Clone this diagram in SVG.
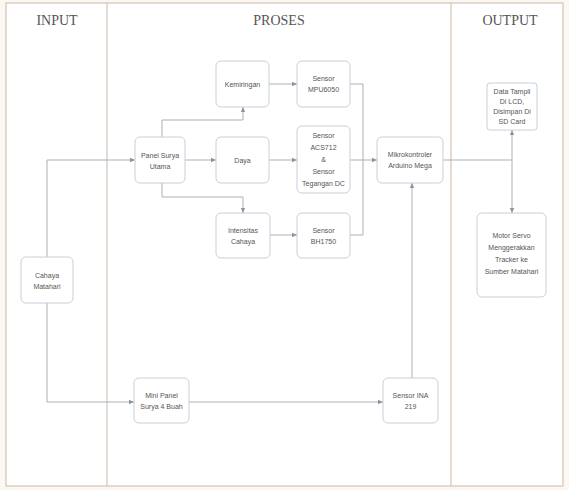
<svg xmlns="http://www.w3.org/2000/svg" width="569" height="490" viewBox="0 0 569 490">
<style>
.node rect{fill:#ffffff;stroke:#c9ced8;stroke-width:1}
.node text{font-family:"Liberation Sans",Arial,sans-serif;font-size:7px;fill:#555;text-anchor:middle}
.lane{font-family:"Liberation Serif","Times New Roman",serif;font-size:14px;fill:#555;text-anchor:middle}
.frame{fill:none;stroke:#cdb8a6;stroke-width:1}
#connectors path{fill:none;stroke:#a9afb8;stroke-width:1}
</style>
<defs>
<marker id="arr" markerWidth="6" markerHeight="6" refX="5" refY="3" orient="auto" markerUnits="userSpaceOnUse">
<path d="M0,0.8 L5,3 L0,5.2 Z" fill="#8f959e"/>
</marker>
</defs>
<rect x="0" y="0" width="569" height="490" fill="#fbf8f4"/>
<rect x="6" y="3" width="557" height="483" fill="#ffffff"/>
<g id="lanes">
<rect x="6" y="3" width="557" height="483" class="frame"/>
<line x1="107" y1="3" x2="107" y2="486" class="frame"/>
<line x1="451" y1="3" x2="451" y2="486" class="frame"/>
<text class="lane" x="57" y="25">INPUT</text>
<text class="lane" x="279" y="25">PROSES</text>
<text class="lane" x="510" y="25">OUTPUT</text>
</g>
<g id="connectors">
<path d="M47,257 V160 H135" marker-end="url(#arr)"/>
<path d="M47,303 V402 H134" marker-end="url(#arr)"/>
<path d="M162,137 V120 H243 V107" marker-end="url(#arr)"/>
<path d="M185,160 H216" marker-end="url(#arr)"/>
<path d="M162,183 V197 H243 V213" marker-end="url(#arr)"/>
<path d="M269,84 H297" marker-end="url(#arr)"/>
<path d="M269,160 H297" marker-end="url(#arr)"/>
<path d="M270,235 H297" marker-end="url(#arr)"/>
<path d="M350,84 H363 V235 H350"/>
<path d="M350,160 H377" marker-end="url(#arr)"/>
<path d="M443,160 H512"/>
<path d="M512,160 V130" marker-end="url(#arr)"/>
<path d="M512,160 V213" marker-end="url(#arr)"/>
<path d="M412,378 V183" marker-end="url(#arr)"/>
<path d="M189,402 H383" marker-end="url(#arr)"/>
</g>
<g id="cahaya-matahari" class="node">
<rect x="21" y="257" width="52" height="46" rx="5"/>
<text x="47" y="278">Cahaya</text>
<text x="47" y="289">Matahari</text>
</g>
<g id="panel-surya-utama" class="node">
<rect x="135" y="137" width="50" height="46" rx="5"/>
<text x="160" y="158">Panel Surya</text>
<text x="160" y="169">Utama</text>
</g>
<g id="kemiringan" class="node">
<rect x="216" y="61" width="53" height="46" rx="5"/>
<text x="242.5" y="86.5">Kemiringan</text>
</g>
<g id="daya" class="node">
<rect x="216" y="137" width="53" height="46" rx="5"/>
<text x="242.5" y="162.5">Daya</text>
</g>
<g id="intensitas-cahaya" class="node">
<rect x="216" y="213" width="54" height="45" rx="5"/>
<text x="243" y="233">Intensitas</text>
<text x="243" y="244">Cahaya</text>
</g>
<g id="sensor-mpu6050" class="node">
<rect x="297" y="61" width="53" height="46" rx="5"/>
<text x="323.5" y="81">Sensor</text>
<text x="323.5" y="92">MPU6050</text>
</g>
<g id="sensor-acs712" class="node">
<rect x="297" y="126" width="53" height="67" rx="5"/>
<text x="323.5" y="138">Sensor</text>
<text x="323.5" y="150">ACS712</text>
<text x="323.5" y="162">&amp;</text>
<text x="323.5" y="174">Sensor</text>
<text x="323.5" y="186">Tegangan DC</text>
</g>
<g id="sensor-bh1750" class="node">
<rect x="297" y="213" width="53" height="45" rx="5"/>
<text x="323.5" y="233">Sensor</text>
<text x="323.5" y="244">BH1750</text>
</g>
<g id="mikrokontroler" class="node">
<rect x="377" y="137" width="66" height="46" rx="5"/>
<text x="410" y="157">Mikrokontroler</text>
<text x="410" y="168">Arduino Mega</text>
</g>
<g id="data-tampil" class="node">
<rect x="487" y="83" width="50" height="47" rx="3"/>
<text x="512" y="94">Data Tampil</text>
<text x="512" y="104">Di LCD,</text>
<text x="512" y="114">Disimpan Di</text>
<text x="512" y="124">SD Card</text>
</g>
<g id="motor-servo" class="node">
<rect x="477" y="213" width="69" height="84" rx="5"/>
<text x="511.5" y="238">Motor Servo</text>
<text x="511.5" y="250">Menggerakkan</text>
<text x="511.5" y="262">Tracker ke</text>
<text x="511.5" y="274">Sumber Matahari</text>
</g>
<g id="mini-panel" class="node">
<rect x="134" y="378" width="55" height="45" rx="5"/>
<text x="161.5" y="398">Mini Panel</text>
<text x="161.5" y="409">Surya 4 Buah</text>
</g>
<g id="sensor-ina219" class="node">
<rect x="383" y="378" width="55" height="45" rx="5"/>
<text x="410.5" y="398">Sensor INA</text>
<text x="410.5" y="409">219</text>
</g>
</svg>
